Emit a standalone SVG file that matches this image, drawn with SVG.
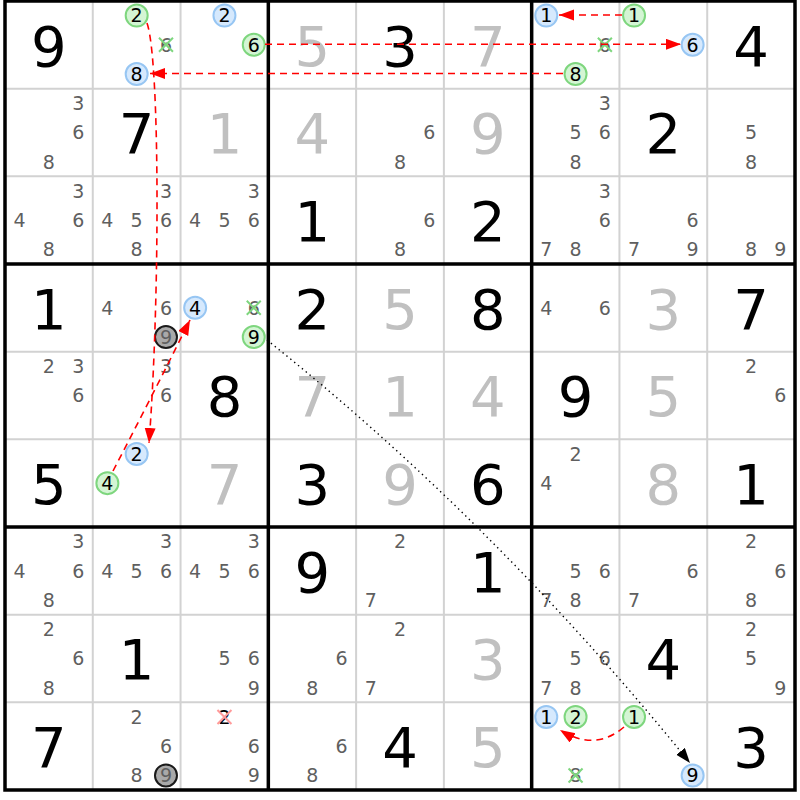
<svg xmlns="http://www.w3.org/2000/svg" width="800" height="800" viewBox="0 0 800 800">
<style>
text{font-family:"DejaVu Sans","Liberation Sans",sans-serif;text-anchor:middle}
.c{font-size:19px;fill:#5f5f5f}
.n{font-size:19px;fill:#000}
.gv{font-size:56px;fill:#000}
.sv{font-size:56px;fill:#c0c0c0}
circle.g{fill:#d4f5d4;stroke:#7ed67e;stroke-width:2}
circle.b{fill:#d6e9fd;stroke:#97c6f3;stroke-width:2}
circle.k{fill:#a9a9a9;stroke:#1a1a1a;stroke-width:2}
.xg{stroke:#7ed67e;stroke-width:2;fill:none}
.xr{stroke:#ff9a9a;stroke-width:2;fill:none}
.thin{stroke:#d2d2d2;stroke-width:2}
.thick{stroke:#000;stroke-width:3.5;fill:none}
.ar{stroke:#f00;stroke-width:1.6;stroke-dasharray:7 5;fill:none}
.dot{stroke:#000;stroke-width:1.4;stroke-dasharray:1.4 3.6;fill:none}
</style>
<defs>
<marker id="mr" markerUnits="userSpaceOnUse" markerWidth="16" markerHeight="12" refX="15" refY="5.5" orient="auto"><path d="M0,0 L15,5.5 L0,11 z" fill="#f00"/></marker>
<marker id="mk" markerUnits="userSpaceOnUse" markerWidth="16" markerHeight="12" refX="15" refY="5.5" orient="auto"><path d="M0,0 L15,5.5 L0,11 z" fill="#000"/></marker>
</defs>
<rect x="0" y="0" width="800" height="800" fill="#fff"/>
<g id="grid">
<path class="thin" d="M92.78,1V790M180.56,1V790M356.11,1V790M443.89,1V790M619.44,1V790M707.22,1V790M5,88.67H795M5,176.33H795M5,351.67H795M5,439.33H795M5,614.67H795M5,702.33H795"/>
<path class="thick" d="M5,1H795V790H5Z M268.33,1V790M531.67,1V790M5,264H795M5,527H795"/>
</g>
<g id="cells">
<g id="r1c1" transform="translate(5,1)"><text class="gv" x="43.9" y="64.5">9</text></g>
<g id="r1c2" transform="translate(92.78,1)">
<circle class="g" cx="43.9" cy="14.6" r="11"/><text class="n" x="43.9" y="21.4">2</text>
<text class="c" x="73.2" y="50.7">6</text><path class="xg" d="M66.2,36.8L80.2,50.8M80.2,36.8L66.2,50.8"/>
<circle class="b" cx="43.9" cy="73.1" r="11"/><text class="n" x="43.9" y="79.9">8</text>
</g>
<g id="r1c3" transform="translate(180.56,1)">
<circle class="b" cx="43.9" cy="14.6" r="11"/><text class="n" x="43.9" y="21.4">2</text>
<circle class="g" cx="73.2" cy="43.8" r="11"/><text class="n" x="73.2" y="50.7">6</text>
</g>
<g id="r1c4" transform="translate(268.33,1)"><text class="sv" x="43.9" y="64.5">5</text></g>
<g id="r1c5" transform="translate(356.11,1)"><text class="gv" x="43.9" y="64.5">3</text></g>
<g id="r1c6" transform="translate(443.89,1)"><text class="sv" x="43.9" y="64.5">7</text></g>
<g id="r1c7" transform="translate(531.67,1)">
<circle class="b" cx="14.6" cy="14.6" r="11"/><text class="n" x="14.6" y="21.4">1</text>
<text class="c" x="73.2" y="50.7">6</text><path class="xg" d="M66.2,36.8L80.2,50.8M80.2,36.8L66.2,50.8"/>
<circle class="g" cx="43.9" cy="73.1" r="11"/><text class="n" x="43.9" y="79.9">8</text>
</g>
<g id="r1c8" transform="translate(619.44,1)">
<circle class="g" cx="14.6" cy="14.6" r="11"/><text class="n" x="14.6" y="21.4">1</text>
<circle class="b" cx="73.2" cy="43.8" r="11"/><text class="n" x="73.2" y="50.7">6</text>
</g>
<g id="r1c9" transform="translate(707.22,1)"><text class="gv" x="43.9" y="64.5">4</text></g>
<g id="r2c1" transform="translate(5,88.67)"><text class="c" x="73.2" y="21.4">3</text><text class="c" x="73.2" y="50.7">6</text><text class="c" x="43.9" y="79.9">8</text></g>
<g id="r2c2" transform="translate(92.78,88.67)"><text class="gv" x="43.9" y="64.5">7</text></g>
<g id="r2c3" transform="translate(180.56,88.67)"><text class="sv" x="43.9" y="64.5">1</text></g>
<g id="r2c4" transform="translate(268.33,88.67)"><text class="sv" x="43.9" y="64.5">4</text></g>
<g id="r2c5" transform="translate(356.11,88.67)"><text class="c" x="73.2" y="50.7">6</text><text class="c" x="43.9" y="79.9">8</text></g>
<g id="r2c6" transform="translate(443.89,88.67)"><text class="sv" x="43.9" y="64.5">9</text></g>
<g id="r2c7" transform="translate(531.67,88.67)"><text class="c" x="73.2" y="21.4">3</text><text class="c" x="43.9" y="50.7">5</text><text class="c" x="73.2" y="50.7">6</text><text class="c" x="43.9" y="79.9">8</text></g>
<g id="r2c8" transform="translate(619.44,88.67)"><text class="gv" x="43.9" y="64.5">2</text></g>
<g id="r2c9" transform="translate(707.22,88.67)"><text class="c" x="43.9" y="50.7">5</text><text class="c" x="43.9" y="79.9">8</text></g>
<g id="r3c1" transform="translate(5,176.33)"><text class="c" x="73.2" y="21.4">3</text><text class="c" x="14.6" y="50.7">4</text><text class="c" x="73.2" y="50.7">6</text><text class="c" x="43.9" y="79.9">8</text></g>
<g id="r3c2" transform="translate(92.78,176.33)"><text class="c" x="73.2" y="21.4">3</text><text class="c" x="14.6" y="50.7">4</text><text class="c" x="43.9" y="50.7">5</text><text class="c" x="73.2" y="50.7">6</text><text class="c" x="43.9" y="79.9">8</text></g>
<g id="r3c3" transform="translate(180.56,176.33)"><text class="c" x="73.2" y="21.4">3</text><text class="c" x="14.6" y="50.7">4</text><text class="c" x="43.9" y="50.7">5</text><text class="c" x="73.2" y="50.7">6</text></g>
<g id="r3c4" transform="translate(268.33,176.33)"><text class="gv" x="43.9" y="64.5">1</text></g>
<g id="r3c5" transform="translate(356.11,176.33)"><text class="c" x="73.2" y="50.7">6</text><text class="c" x="43.9" y="79.9">8</text></g>
<g id="r3c6" transform="translate(443.89,176.33)"><text class="gv" x="43.9" y="64.5">2</text></g>
<g id="r3c7" transform="translate(531.67,176.33)"><text class="c" x="73.2" y="21.4">3</text><text class="c" x="73.2" y="50.7">6</text><text class="c" x="14.6" y="79.9">7</text><text class="c" x="43.9" y="79.9">8</text></g>
<g id="r3c8" transform="translate(619.44,176.33)"><text class="c" x="73.2" y="50.7">6</text><text class="c" x="14.6" y="79.9">7</text><text class="c" x="73.2" y="79.9">9</text></g>
<g id="r3c9" transform="translate(707.22,176.33)"><text class="c" x="43.9" y="79.9">8</text><text class="c" x="73.2" y="79.9">9</text></g>
<g id="r4c1" transform="translate(5,264)"><text class="gv" x="43.9" y="64.5">1</text></g>
<g id="r4c2" transform="translate(92.78,264)"><text class="c" x="14.6" y="50.7">4</text><text class="c" x="73.2" y="50.7">6</text>
<circle class="k" cx="73.2" cy="73.1" r="11"/><text class="c" x="73.2" y="79.9">9</text></g>
<g id="r4c3" transform="translate(180.56,264)">
<circle class="b" cx="14.6" cy="43.8" r="11"/><text class="n" x="14.6" y="50.7">4</text>
<text class="c" x="73.2" y="50.7">6</text><path class="xg" d="M66.2,36.8L80.2,50.8M80.2,36.8L66.2,50.8"/>
<circle class="g" cx="73.2" cy="73.1" r="11"/><text class="n" x="73.2" y="79.9">9</text>
</g>
<g id="r4c4" transform="translate(268.33,264)"><text class="gv" x="43.9" y="64.5">2</text></g>
<g id="r4c5" transform="translate(356.11,264)"><text class="sv" x="43.9" y="64.5">5</text></g>
<g id="r4c6" transform="translate(443.89,264)"><text class="gv" x="43.9" y="64.5">8</text></g>
<g id="r4c7" transform="translate(531.67,264)"><text class="c" x="14.6" y="50.7">4</text><text class="c" x="73.2" y="50.7">6</text></g>
<g id="r4c8" transform="translate(619.44,264)"><text class="sv" x="43.9" y="64.5">3</text></g>
<g id="r4c9" transform="translate(707.22,264)"><text class="gv" x="43.9" y="64.5">7</text></g>
<g id="r5c1" transform="translate(5,351.67)"><text class="c" x="43.9" y="21.4">2</text><text class="c" x="73.2" y="21.4">3</text><text class="c" x="73.2" y="50.7">6</text></g>
<g id="r5c2" transform="translate(92.78,351.67)"><text class="c" x="73.2" y="21.4">3</text><text class="c" x="73.2" y="50.7">6</text></g>
<g id="r5c3" transform="translate(180.56,351.67)"><text class="gv" x="43.9" y="64.5">8</text></g>
<g id="r5c4" transform="translate(268.33,351.67)"><text class="sv" x="43.9" y="64.5">7</text></g>
<g id="r5c5" transform="translate(356.11,351.67)"><text class="sv" x="43.9" y="64.5">1</text></g>
<g id="r5c6" transform="translate(443.89,351.67)"><text class="sv" x="43.9" y="64.5">4</text></g>
<g id="r5c7" transform="translate(531.67,351.67)"><text class="gv" x="43.9" y="64.5">9</text></g>
<g id="r5c8" transform="translate(619.44,351.67)"><text class="sv" x="43.9" y="64.5">5</text></g>
<g id="r5c9" transform="translate(707.22,351.67)"><text class="c" x="43.9" y="21.4">2</text><text class="c" x="73.2" y="50.7">6</text></g>
<g id="r6c1" transform="translate(5,439.33)"><text class="gv" x="43.9" y="64.5">5</text></g>
<g id="r6c2" transform="translate(92.78,439.33)">
<circle class="b" cx="43.9" cy="14.6" r="11"/><text class="n" x="43.9" y="21.4">2</text>
<circle class="g" cx="14.6" cy="43.8" r="11"/><text class="n" x="14.6" y="50.7">4</text>
</g>
<g id="r6c3" transform="translate(180.56,439.33)"><text class="sv" x="43.9" y="64.5">7</text></g>
<g id="r6c4" transform="translate(268.33,439.33)"><text class="gv" x="43.9" y="64.5">3</text></g>
<g id="r6c5" transform="translate(356.11,439.33)"><text class="sv" x="43.9" y="64.5">9</text></g>
<g id="r6c6" transform="translate(443.89,439.33)"><text class="gv" x="43.9" y="64.5">6</text></g>
<g id="r6c7" transform="translate(531.67,439.33)"><text class="c" x="43.9" y="21.4">2</text><text class="c" x="14.6" y="50.7">4</text></g>
<g id="r6c8" transform="translate(619.44,439.33)"><text class="sv" x="43.9" y="64.5">8</text></g>
<g id="r6c9" transform="translate(707.22,439.33)"><text class="gv" x="43.9" y="64.5">1</text></g>
<g id="r7c1" transform="translate(5,527)"><text class="c" x="73.2" y="21.4">3</text><text class="c" x="14.6" y="50.7">4</text><text class="c" x="73.2" y="50.7">6</text><text class="c" x="43.9" y="79.9">8</text></g>
<g id="r7c2" transform="translate(92.78,527)"><text class="c" x="73.2" y="21.4">3</text><text class="c" x="14.6" y="50.7">4</text><text class="c" x="43.9" y="50.7">5</text><text class="c" x="73.2" y="50.7">6</text></g>
<g id="r7c3" transform="translate(180.56,527)"><text class="c" x="73.2" y="21.4">3</text><text class="c" x="14.6" y="50.7">4</text><text class="c" x="43.9" y="50.7">5</text><text class="c" x="73.2" y="50.7">6</text></g>
<g id="r7c4" transform="translate(268.33,527)"><text class="gv" x="43.9" y="64.5">9</text></g>
<g id="r7c5" transform="translate(356.11,527)"><text class="c" x="43.9" y="21.4">2</text><text class="c" x="14.6" y="79.9">7</text></g>
<g id="r7c6" transform="translate(443.89,527)"><text class="gv" x="43.9" y="64.5">1</text></g>
<g id="r7c7" transform="translate(531.67,527)"><text class="c" x="43.9" y="50.7">5</text><text class="c" x="73.2" y="50.7">6</text><text class="c" x="14.6" y="79.9">7</text><text class="c" x="43.9" y="79.9">8</text></g>
<g id="r7c8" transform="translate(619.44,527)"><text class="c" x="73.2" y="50.7">6</text><text class="c" x="14.6" y="79.9">7</text></g>
<g id="r7c9" transform="translate(707.22,527)"><text class="c" x="43.9" y="21.4">2</text><text class="c" x="73.2" y="50.7">6</text><text class="c" x="43.9" y="79.9">8</text></g>
<g id="r8c1" transform="translate(5,614.67)"><text class="c" x="43.9" y="21.4">2</text><text class="c" x="73.2" y="50.7">6</text><text class="c" x="43.9" y="79.9">8</text></g>
<g id="r8c2" transform="translate(92.78,614.67)"><text class="gv" x="43.9" y="64.5">1</text></g>
<g id="r8c3" transform="translate(180.56,614.67)"><text class="c" x="43.9" y="50.7">5</text><text class="c" x="73.2" y="50.7">6</text><text class="c" x="73.2" y="79.9">9</text></g>
<g id="r8c4" transform="translate(268.33,614.67)"><text class="c" x="73.2" y="50.7">6</text><text class="c" x="43.9" y="79.9">8</text></g>
<g id="r8c5" transform="translate(356.11,614.67)"><text class="c" x="43.9" y="21.4">2</text><text class="c" x="14.6" y="79.9">7</text></g>
<g id="r8c6" transform="translate(443.89,614.67)"><text class="sv" x="43.9" y="64.5">3</text></g>
<g id="r8c7" transform="translate(531.67,614.67)"><text class="c" x="43.9" y="50.7">5</text><text class="c" x="73.2" y="50.7">6</text><text class="c" x="14.6" y="79.9">7</text><text class="c" x="43.9" y="79.9">8</text></g>
<g id="r8c8" transform="translate(619.44,614.67)"><text class="gv" x="43.9" y="64.5">4</text></g>
<g id="r8c9" transform="translate(707.22,614.67)"><text class="c" x="43.9" y="21.4">2</text><text class="c" x="43.9" y="50.7">5</text><text class="c" x="73.2" y="79.9">9</text></g>
<g id="r9c1" transform="translate(5,702.33)"><text class="gv" x="43.9" y="64.5">7</text></g>
<g id="r9c2" transform="translate(92.78,702.33)"><text class="c" x="43.9" y="21.4">2</text><text class="c" x="73.2" y="50.7">6</text><text class="c" x="43.9" y="79.9">8</text>
<circle class="k" cx="73.2" cy="73.1" r="11"/><text class="c" x="73.2" y="79.9">9</text></g>
<g id="r9c3" transform="translate(180.56,702.33)"><text class="n" x="43.9" y="21.4">2</text><path class="xr" d="M36.9,7.6L50.9,21.6M50.9,7.6L36.9,21.6"/><text class="c" x="73.2" y="50.7">6</text><text class="c" x="73.2" y="79.9">9</text></g>
<g id="r9c4" transform="translate(268.33,702.33)"><text class="c" x="73.2" y="50.7">6</text><text class="c" x="43.9" y="79.9">8</text></g>
<g id="r9c5" transform="translate(356.11,702.33)"><text class="gv" x="43.9" y="64.5">4</text></g>
<g id="r9c6" transform="translate(443.89,702.33)"><text class="sv" x="43.9" y="64.5">5</text></g>
<g id="r9c7" transform="translate(531.67,702.33)">
<circle class="b" cx="14.6" cy="14.6" r="11"/><text class="n" x="14.6" y="21.4">1</text>
<circle class="g" cx="43.9" cy="14.6" r="11"/><text class="n" x="43.9" y="21.4">2</text>
<text class="c" x="43.9" y="79.9">8</text><path class="xg" d="M36.9,66.1L50.9,80.1M50.9,66.1L36.9,80.1"/>
</g>
<g id="r9c8" transform="translate(619.44,702.33)">
<circle class="g" cx="14.6" cy="14.6" r="11"/><text class="n" x="14.6" y="21.4">1</text>
<circle class="b" cx="73.2" cy="73.1" r="11"/><text class="n" x="73.2" y="79.9">9</text>
</g>
<g id="r9c9" transform="translate(707.22,702.33)"><text class="gv" x="43.9" y="64.5">3</text></g>
</g>
<g id="connectors">
<path class="ar" d="M265,44.3H681" marker-end="url(#mr)"/>
<path class="ar" d="M563,73.5H150" marker-end="url(#mr)"/>
<path class="ar" d="M622,15H559" marker-end="url(#mr)"/>
<path class="ar" d="M147,23C160,60 160,300 149,443" marker-end="url(#mr)"/>
<path class="ar" d="M113,471Q150,400 190,320" marker-end="url(#mr)"/>
<path class="ar" d="M624,727Q595,752 560,730" marker-end="url(#mr)"/>
<path class="dot" d="M267,340Q495,522 690,763" marker-end="url(#mk)"/>
</g>
</svg>
